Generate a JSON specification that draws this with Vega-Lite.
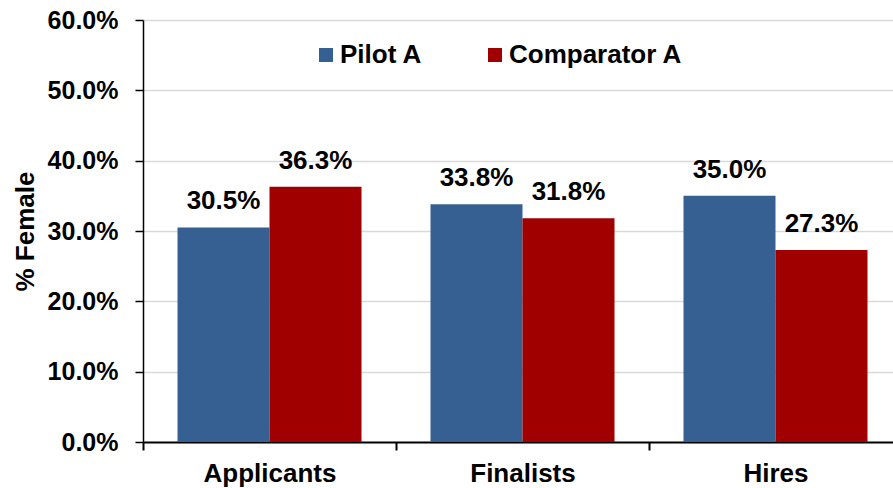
{
  "$schema": "https://vega.github.io/schema/vega-lite/v6.json",
  "width": 759,
  "height": 422,
  "autosize": {"type": "none"},
  "padding": {"left": 143, "top": 20, "right": 0, "bottom": 46},
  "background": "white",
  "config": {
    "view": {"stroke": null},
    "font": "Liberation Sans"
  },
  "data": {
    "values": [
      {"stage": "Applicants", "series": "Pilot A", "value": 0.305},
      {"stage": "Applicants", "series": "Comparator A", "value": 0.363},
      {"stage": "Finalists", "series": "Pilot A", "value": 0.338},
      {"stage": "Finalists", "series": "Comparator A", "value": 0.318},
      {"stage": "Hires", "series": "Pilot A", "value": 0.35},
      {"stage": "Hires", "series": "Comparator A", "value": 0.273}
    ]
  },
  "encoding": {
    "x": {
      "field": "stage",
      "type": "nominal",
      "sort": ["Applicants", "Finalists", "Hires"],
      "scale": {"paddingInner": 0, "paddingOuter": 0},
      "axis": {
        "title": null,
        "labelAngle": 0,
        "labelFont": "Liberation Sans",
        "labelFontSize": 26,
        "labelFontWeight": "bold",
        "labelColor": "black",
        "labelPadding": 10,
        "tickBand": "extent",
        "tickSize": 8,
        "tickColor": "black",
        "tickWidth": 2,
        "domainColor": "black",
        "domainWidth": 2,
        "grid": false
      }
    },
    "xOffset": {
      "field": "series",
      "type": "nominal",
      "sort": ["Pilot A", "Comparator A"],
      "scale": {"paddingInner": 0, "paddingOuter": 0.375}
    },
    "y": {
      "field": "value",
      "type": "quantitative",
      "scale": {"domain": [0, 0.6], "nice": false},
      "axis": {
        "values": [0, 0.1, 0.2, 0.3, 0.4, 0.5, 0.6],
        "format": ".1%",
        "title": "% Female",
        "titleFont": "Liberation Sans",
        "titleFontSize": 26,
        "titleFontWeight": "bold",
        "titleColor": "black",
        "titleAngle": -90,
        "titleX": -110,
        "titleY": 211,
        "titleAlign": "center",
        "titleBaseline": "alphabetic",
        "labelFont": "Liberation Sans",
        "labelFontSize": 25,
        "labelFontWeight": "bold",
        "labelColor": "black",
        "labelPadding": 17,
        "tickSize": 8,
        "tickColor": "black",
        "tickWidth": 1.5,
        "domainColor": "black",
        "domainWidth": 1.5,
        "grid": true,
        "gridColor": "#d9d9d9",
        "gridWidth": 1.5
      }
    }
  },
  "layer": [
    {
      "mark": {"type": "bar"},
      "encoding": {
        "color": {
          "field": "series",
          "type": "nominal",
          "sort": ["Pilot A", "Comparator A"],
          "scale": {"domain": ["Pilot A", "Comparator A"], "range": ["#376092", "#A00000"]},
          "legend": {
            "title": null,
            "orient": "none",
            "direction": "horizontal",
            "legendX": 170,
            "legendY": 22,
            "padding": 0,
            "symbolType": "square",
            "symbolSize": 196,
            "symbolStrokeWidth": 0,
            "labelFont": "Liberation Sans",
            "labelFontSize": 26,
            "labelFontWeight": "bold",
            "labelColor": "black",
            "labelOffset": 1,
            "labelLimit": 400,
            "columnPadding": 59
          }
        }
      }
    },
    {
      "mark": {"type": "text", "baseline": "alphabetic", "dy": -18, "font": "Liberation Sans", "fontSize": 26, "fontWeight": "bold", "color": "black"},
      "encoding": {
        "text": {"field": "value", "type": "quantitative", "format": ".1%"}
      }
    }
  ]
}
